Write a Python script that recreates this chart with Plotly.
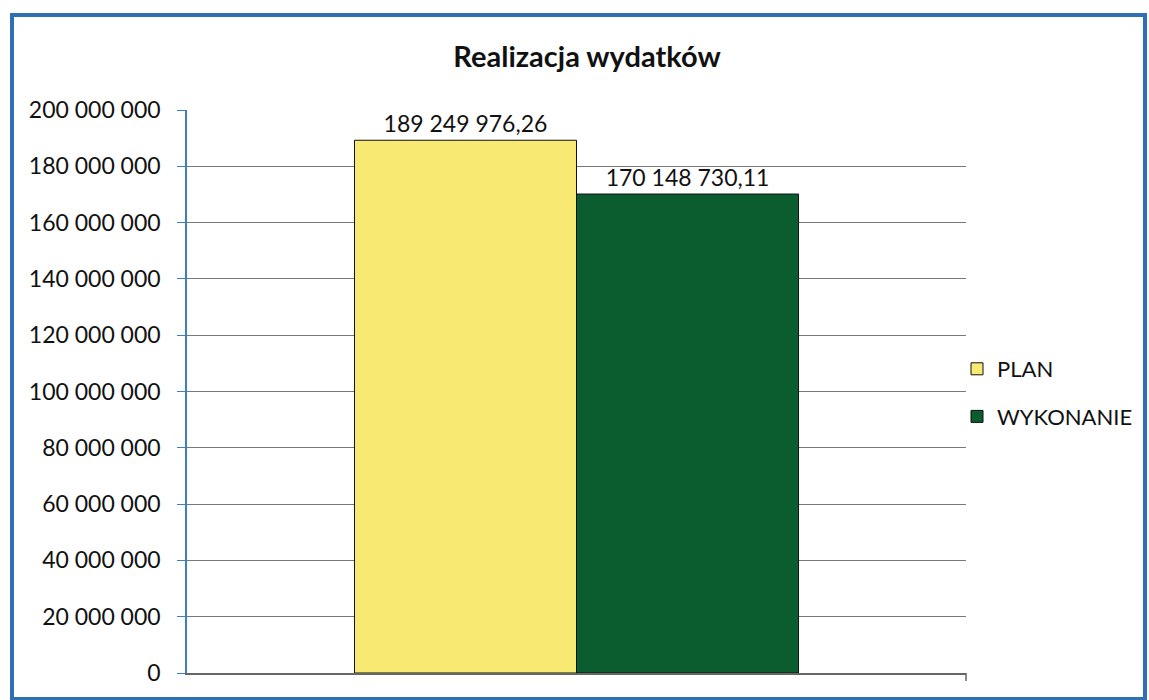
import plotly.graph_objects as go

categories = [""]
series_names = ["PLAN", "WYKONANIE"]
plan_values = [189249976.26]
wykonanie_values = [170148730.11]
plan_labels = ["189 249 976,26"]
wykonanie_labels = ["170 148 730,11"]
tick_vals = [0, 20000000, 40000000, 60000000, 80000000, 100000000,
             120000000, 140000000, 160000000, 180000000, 200000000]
tick_text = ["0", "20 000 000", "40 000 000", "60 000 000", "80 000 000", "100 000 000",
             "120 000 000", "140 000 000", "160 000 000", "180 000 000", "200 000 000"]

FONT = "Lato, 'Open Sans', sans-serif"

fig = go.Figure()
fig.add_trace(go.Bar(
    x=categories, y=plan_values, name=series_names[0], legendgroup="a",
    marker=dict(color="#F7E971", line=dict(color="#111111", width=1)),
    text=plan_labels, textposition="outside", cliponaxis=False,
    textfont=dict(family=FONT, size=23, color="#111111"),
))
fig.add_trace(go.Bar(
    x=categories, y=wykonanie_values, name=series_names[1], legendgroup="b",
    marker=dict(color="#0B5C2E", line=dict(color="#111111", width=1)),
    text=wykonanie_labels, textposition="outside", cliponaxis=False,
    textfont=dict(family=FONT, size=23, color="#111111"),
))

W, H = 1149, 700
L, R, T, B = 187, 966, 110, 673
pw, ph = R - L, B - T

def px(x):
    return (x - L) / pw

def py(y):
    return (B - y) / ph

fig.update_layout(
    width=W, height=H,
    margin=dict(l=L, r=W - R, t=T, b=H - B, autoexpand=False),
    paper_bgcolor="white", plot_bgcolor="white",
    barmode="group", bargap=0.43, bargroupgap=0,
    font=dict(family=FONT, size=20, color="#111111"),
    title=dict(text="<b>Realizacja wydatków</b>", x=587 / W, xanchor="center",
               y=1 - 57 / H, yanchor="middle",
               font=dict(family=FONT, size=29, color="#111111")),
    legend=dict(x=px(957), y=py(393), xanchor="left", yanchor="middle",
                font=dict(family=FONT, size=22, color="#111111"),
                bgcolor="rgba(0,0,0,0)", tracegroupgap=16, itemwidth=30),
    showlegend=True,
)
fig.update_yaxes(
    range=[0, 200000000], tickmode="array", tickvals=tick_vals, ticktext=tick_text,
    showgrid=True, gridcolor="#777777", gridwidth=1,
    showline=True, linecolor="#3a7fc0", linewidth=1.5,
    ticks="outside", ticklen=8, tickcolor="#3a7fc0",
    ticklabelstandoff=12, zeroline=False,
    tickfont=dict(family=FONT, size=23, color="#111111"),
)
fig.update_xaxes(
    showline=True, linecolor="#666666", linewidth=1.5,
    showticklabels=False, ticks="", showgrid=False,
)
# right end tick on the x axis
fig.add_shape(type="line", xref="paper", yref="paper",
              x0=1, x1=1, y0=0, y1=py(681), line=dict(color="#666666", width=1.5))
# outer blue border
fig.add_shape(type="rect", xref="paper", yref="paper",
              x0=px(12), x1=px(1145), y0=py(699), y1=py(15),
              line=dict(color="#2f6fb5", width=4), fillcolor="rgba(0,0,0,0)", layer="below")

fig.write_html("out.html", config={"displayModeBar": False},
               post_script="document.body.style.margin='0';document.body.style.overflow='hidden';")
